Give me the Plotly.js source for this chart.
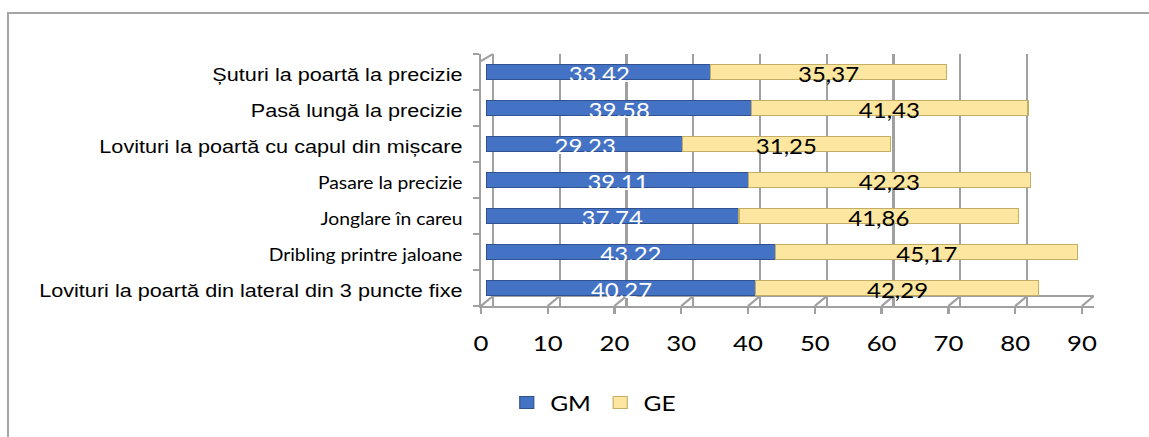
<!DOCTYPE html>
<html><head><meta charset="utf-8">
<script src="https://cdn.plot.ly/plotly-3.0.1.min.js"></script>
<style>
html,body{margin:0;padding:0;background:#fff;}
#wrap{position:relative;width:1149px;height:437px;overflow:hidden;background:#fff;}
#plot{position:absolute;left:0;top:0;width:982px;height:437px;transform:scaleX(1.17006);transform-origin:0 0;}
#frame{position:absolute;left:7px;top:12px;right:-10px;bottom:-10px;border-left:2px solid #a5a5a5;border-top:2px solid #a5a5a5;pointer-events:none;}
</style></head><body>
<div id="wrap"><div id="plot"></div><div id="frame"></div></div>
<script>
// ---- data ----
const categories = [
  "Șuturi la poartă la precizie",
  "Pasă lungă la precizie",
  "Lovituri la poartă cu capul din mișcare",
  "Pasare la precizie",
  "Jonglare în careu",
  "Dribling printre jaloane",
  "Lovituri la poartă din lateral din 3 puncte fixe"
];
const gm = [33.42, 39.58, 29.23, 39.11, 37.74, 43.22, 40.27];
const ge = [35.37, 41.43, 31.25, 42.23, 41.86, 45.17, 42.29];
const seriesNames = ["GM", "GE"];
const xTicks = [0, 10, 20, 30, 40, 50, 60, 70, 80, 90];
const xTickText = ["0", "10", "20", "30", "40", "50", "60", "70", "80", "90"];

// ---- styling ----
const calibriLike = [3, 4, 5]; // labels drawn in the second font
const gridCol = "#a0a0a0";
const tickText = categories.map((c, i) =>
  calibriLike.includes(i)
    ? '<span style="font-family:Lato;font-size:16.5px">' + c + '</span>'
    : c);

const traces = [
  {type: "bar", orientation: "h", name: seriesNames[0], y: categories, x: gm,
   marker: {color: "#4472C4", line: {color: "#2F528F", width: 1}},
   hoverinfo: "skip"},
  {type: "bar", orientation: "h", name: seriesNames[1], y: categories, x: ge,
   marker: {color: "#FDE7A0", line: {color: "#C4AE66", width: 1}},
   hoverinfo: "skip"},
  {type: "scatter", x: [], y: [], xaxis: "x2", showlegend: false, hoverinfo: "skip"},
  {type: "scatter", x: [], y: [], xaxis: "x3", showlegend: false, hoverinfo: "skip"}
];

const annotations = [];
categories.forEach((c, i) => {
  annotations.push({xref: "x", yref: "y", x: gm[i] / 2, y: c, text: gm[i].toFixed(2),
    showarrow: false, yshift: -2, font: {family: "Lato", size: 20.5, color: "#ffffff"}});
  annotations.push({xref: "x", yref: "y", x: gm[i] + ge[i] / 2, y: c,
    text: ge[i].toFixed(2).replace(".", ","),
    showarrow: false, yshift: -2, font: {family: "Lato", size: 20.5, color: "#000000"}});
});

const depth = 1.8;      // 3D offset in axis units
const floorRise = 0.04; // 3D offset in paper units
const shapes = [];
xTicks.forEach(v => {
  shapes.push({type: "line", layer: "below", xref: "x2", yref: "paper",
    x0: v, x1: v + depth, y0: 0, y1: floorRise, line: {color: gridCol, width: 2}});
});
shapes.push({type: "line", layer: "below", xref: "x3", yref: "paper",
  x0: xTicks[0], x1: xTicks[xTicks.length - 1], y0: floorRise, y1: floorRise,
  line: {color: gridCol, width: 2}});
shapes.push({type: "line", layer: "below", xref: "x2", yref: "paper",
  x0: 0, x1: depth, y0: 1 - floorRise * 0.7, y1: 1, line: {color: gridCol, width: 2}});

const layout = {
  width: 982, height: 437,
  margin: {l: 411, r: 47, t: 54, b: 131},
  paper_bgcolor: "#ffffff", plot_bgcolor: "rgba(0,0,0,0)",
  barmode: "stack", bargap: 0.57,
  showlegend: true,
  legend: {orientation: "h", traceorder: "normal", xref: "container", yref: "container",
    x: 0.516, xanchor: "center", y: 0.078, yanchor: "middle",
    font: {family: "Lato", size: 21, color: "#000"}, bgcolor: "rgba(0,0,0,0)"},
  xaxis: {range: [-0.9, 90.9], visible: false, fixedrange: true},
  xaxis2: {overlaying: "x", anchor: "y", side: "bottom", range: [0, 91.8],
    tickmode: "array", tickvals: xTicks, ticktext: xTickText,
    showline: true, linecolor: gridCol, linewidth: 2,
    ticks: "outside", ticklen: 6, tickwidth: 2, tickcolor: gridCol,
    showgrid: false, zeroline: false, automargin: false,
    ticklabelstandoff: 11,
    tickfont: {family: "Lato", size: 22, color: "#000"}},
  xaxis3: {overlaying: "x", anchor: "y", range: [-1.8, 90.02],
    tickmode: "array", tickvals: xTicks, showticklabels: false, ticks: "",
    showgrid: true, gridcolor: gridCol, gridwidth: 2,
    showline: false, zeroline: false, automargin: false},
  yaxis: {type: "category", categoryorder: "array", categoryarray: categories,
    range: [6.5, -0.5], tickmode: "array", tickvals: categories, ticktext: tickText,
    tickson: "boundaries", ticks: "outside", ticklen: 5, tickwidth: 2, tickcolor: gridCol,
    showline: true, linecolor: gridCol, linewidth: 2,
    showgrid: false, zeroline: false, automargin: false,
    ticklabelstandoff: 10, ticklabelshift: -3,
    tickfont: {family: "Liberation Sans, Arial, sans-serif", size: 18.5, color: "#000"}},
  annotations: annotations,
  shapes: shapes
};

Plotly.newPlot("plot", traces, layout, {displayModeBar: false, staticPlot: true});
</script>
</body></html>
